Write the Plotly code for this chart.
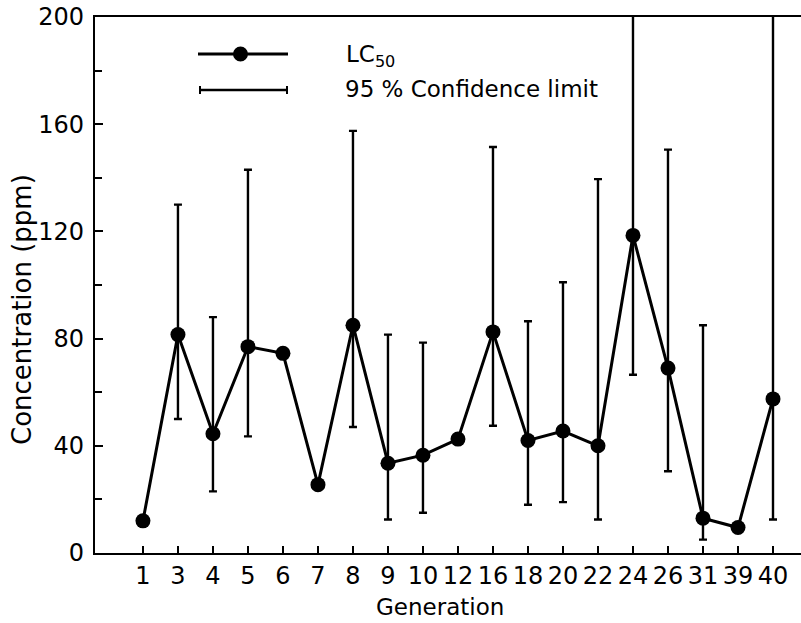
import plotly.graph_objects as go

# Data
generations = ["1", "3", "4", "5", "6", "7", "8", "9", "10", "12",
               "16", "18", "20", "22", "24", "26", "31", "39", "40"]
lc50 = [12, 81.5, 44.5, 77, 74.5, 25.5, 85, 33.5, 36.5, 42.5,
        82.5, 42, 45.5, 40, 118.5, 69, 13, 9.5, 57.5]
ci_upper = [None, 130, 88, 143, None, None, 157.5, 81.5, 78.5, None,
            151.5, 86.5, 101, 139.5, 210, 150.5, 85, None, 210]
ci_lower = [None, 50, 23, 43.5, None, None, 47, 12.5, 15, None,
            47.5, 18, 19, 12.5, 66.5, 30.5, 5, None, 12.5]
y_ticks = [0, 40, 80, 120, 160, 200]

err_plus = [(u - v) if u is not None else 0 for u, v in zip(ci_upper, lc50)]
err_minus = [(v - l) if l is not None else 0 for l, v in zip(ci_lower, lc50)]

FONT = "DejaVu Sans"

fig = go.Figure()
fig.add_trace(go.Scatter(
    x=generations, y=lc50, mode="lines+markers",
    line=dict(color="black", width=3),
    marker=dict(color="black", size=15),
    error_y=dict(type="data", symmetric=False, array=err_plus,
                 arrayminus=err_minus, color="black", thickness=2.4, width=4),
    cliponaxis=True, showlegend=False,
))

W, H = 801, 623
# plot area in page pixels: left 95, top 17, right 801, bottom 553
L, T = 95, 17
R, B = 0, H - 553
pw, ph = W - L - R, H - T - B

def fx(p):
    return (p - L) / pw

def fy(p):
    return 1 - (p - T) / ph

# Legend glyphs (paper coordinates)
shapes = [
    dict(type="line", x0=fx(198), x1=fx(288), y0=fy(54), y1=fy(54),
         line=dict(color="black", width=3)),
    dict(type="line", x0=fx(200), x1=fx(287), y0=fy(90), y1=fy(90),
         line=dict(color="black", width=2.4)),
    dict(type="line", x0=fx(200), x1=fx(200), y0=fy(86), y1=fy(94),
         line=dict(color="black", width=2)),
    dict(type="line", x0=fx(287), x1=fx(287), y0=fy(86), y1=fy(94),
         line=dict(color="black", width=2)),
    dict(type="circle", x0=fx(233), x1=fx(248), y0=fy(46.5), y1=fy(61.5),
         fillcolor="black", line=dict(color="black", width=0)),
]
for s in shapes:
    s["xref"] = "paper"
    s["yref"] = "paper"

annotations = [
    dict(text="LC<sub>50</sub>", xref="paper", yref="paper",
         x=fx(344), y=fy(56), xanchor="left", yanchor="middle",
         showarrow=False, font=dict(family=FONT, size=23, color="black")),
    dict(text="95 % Confidence limit", xref="paper", yref="paper",
         x=fx(343), y=fy(89), xanchor="left", yanchor="middle",
         showarrow=False, font=dict(family=FONT, size=23, color="black")),
    dict(text="Generation", xref="paper", yref="paper",
         x=fx(440), y=fy(607), xanchor="center", yanchor="middle",
         showarrow=False, font=dict(family=FONT, size=23, color="black")),
    dict(text="Concentration (ppm)", xref="paper", yref="paper",
         x=fx(22), y=fy(310), xanchor="center", yanchor="middle", textangle=-90,
         showarrow=False, font=dict(family=FONT, size=26, color="black")),
]

fig.update_layout(
    width=W, height=H,
    margin=dict(l=L, r=R, t=T, b=B, autoexpand=False),
    paper_bgcolor="white", plot_bgcolor="white",
    font=dict(family=FONT, color="black"),
    shapes=shapes, annotations=annotations,
    xaxis=dict(
        type="category", range=[-1.37, 18.8], automargin=False,
        showline=True, linecolor="black", linewidth=2.4, mirror=True,
        ticks="inside", ticklen=7, tickwidth=2, tickcolor="black",
        tickangle=0, tickfont=dict(family=FONT, size=24),
        ticklabeloverflow="allow",
        showgrid=False, zeroline=False,
    ),
    yaxis=dict(
        range=[0, 200], tickvals=y_ticks, automargin=False,
        showline=True, linecolor="black", linewidth=2.4,
        ticks="inside", ticklen=8, tickwidth=2, tickcolor="black",
        tickfont=dict(family=FONT, size=24), ticklabelstandoff=4,
        ticklabeloverflow="allow",
        minor=dict(dtick=20, ticks="inside", ticklen=7, tickwidth=1.5,
                   tickcolor="black", showgrid=False),
        showgrid=False, zeroline=False,
    ),
)

fig.write_html(
    "out.html",
    config={"displayModeBar": False},
    post_script="document.body.style.margin='0';document.body.style.overflow='hidden';",
)
